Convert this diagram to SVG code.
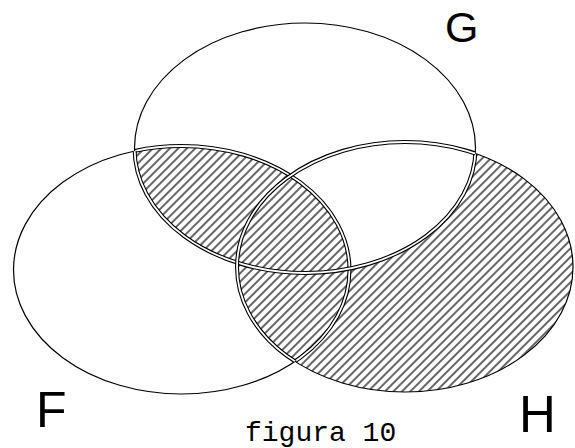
<svg xmlns="http://www.w3.org/2000/svg" width="575" height="448" viewBox="0 0 575 448">
<style>
.out{fill:none;stroke:#000;stroke-width:1.2}
.dblB{fill:none;stroke:#000;stroke-width:4}
.dblW{fill:none;stroke:#fff;stroke-width:1.8}
.big{font-family:"Liberation Sans",Arial,sans-serif;fill:#000}
.cap{font-family:"Liberation Mono","Courier New",monospace;font-size:28px;fill:#000}
</style>
<defs>
<ellipse id="eF" cx="181.5" cy="270" rx="168" ry="124"/>
<ellipse id="eG" cx="305" cy="148" rx="170.5" ry="125"/>
<ellipse id="eH" cx="405" cy="267" rx="168" ry="125"/>
<clipPath id="cG"><use href="#eG"/></clipPath>
<clipPath id="cGH"><use href="#eG"/><use href="#eH"/></clipPath>
<clipPath id="cFH"><use href="#eF"/><use href="#eH"/></clipPath>
<clipPath id="cFG"><use href="#eF"/><use href="#eG"/></clipPath>
<pattern id="hatch" width="6" height="6" patternUnits="userSpaceOnUse" patternTransform="rotate(-45)">
<line x1="0" y1="3" x2="6" y2="3" stroke="#000" stroke-width="1.2"/>
</pattern>
<mask id="mHatch">
<rect width="575" height="448" fill="#000"/>
<use href="#eH" fill="#fff"/>
<use href="#eG" fill="#000"/>
<g clip-path="url(#cG)"><use href="#eF" fill="#fff"/></g>
</mask>
</defs>
<rect width="575" height="448" fill="#fff"/>
<g id="hatching">
<rect width="575" height="448" fill="url(#hatch)" mask="url(#mHatch)"/>
</g>
<g id="F">
<use href="#eF" class="out"/>
<g clip-path="url(#cGH)"><use href="#eF" class="dblB"/><use href="#eF" class="dblW"/></g>
</g>
<g id="G">
<use href="#eG" class="out"/>
<g clip-path="url(#cFH)"><use href="#eG" class="dblB"/><use href="#eG" class="dblW"/></g>
</g>
<g id="H">
<use href="#eH" class="out"/>
<g clip-path="url(#cFG)"><use href="#eH" class="dblB"/><use href="#eH" class="dblW"/></g>
</g>
<g id="labels">
<text class="big" x="445" y="41.5" font-size="43">G</text>
<text class="big" x="36" y="427" font-size="50">F</text>
<text class="big" x="519" y="432" font-size="51">H</text>
<text class="cap" x="245" y="441">figura 10</text>
</g>
</svg>
